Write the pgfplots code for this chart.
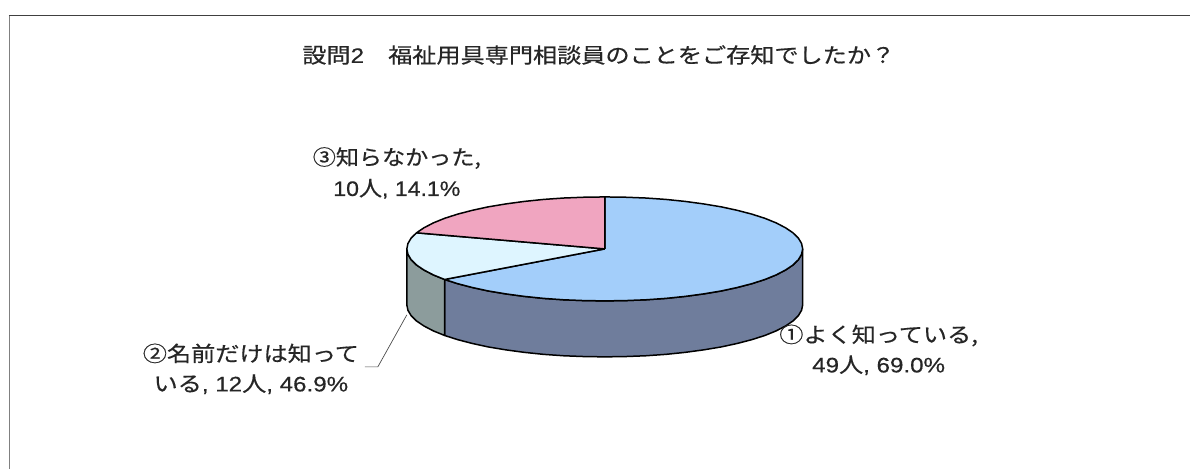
\documentclass[border=0pt]{standalone}
\usepackage{pgfplots}
\pgfplotsset{compat=1.18}
\usepackage{fontspec}
\setmainfont[RawFeature={embolden=0.5}]{Liberation Sans}
\newfontfamily\cjk[RawFeature={embolden=0.5}]{Noto Sans CJK JP}
\definecolor{sliceA}{RGB}{163,206,250}
\definecolor{sliceB}{RGB}{222,245,255}
\definecolor{sliceC}{RGB}{240,165,192}
\definecolor{sideA}{RGB}{111,125,156}
\definecolor{sideB}{RGB}{140,156,156}
\definecolor{ink}{RGB}{38,38,38}
\newcommand{\lab}[1]{\scalebox{1.15}[1]{#1}}
\newcommand{\labn}[1]{\scalebox{1.1}[1]{#1}}

% Rim of the top face: slices run clockwise from the twelve o'clock position
\pgfplotstableread{
x y
605 249
605 197
625.7 197.3
646.2 198.1
666.2 199.5
685.5 201.5
704 204
721.4 206.9
737.5 210.4
752.1 214.2
765.2 218.4
776.5 223
785.9 227.9
793.3 232.9
798.7 238.2
801.9 243.6
803 249
801.9 254.4
798.7 259.8
793.3 265.1
785.9 270.1
776.5 275
765.2 279.6
752.1 283.8
737.5 287.6
721.4 291.1
704 294
685.5 296.5
666.2 298.5
646.2 299.9
625.7 300.7
605 301
584.3 300.7
563.8 299.9
543.8 298.5
524.5 296.5
506 294
488.6 291.1
472.5 287.6
457.9 283.8
444.8 279.6
605 249
}\topA
\pgfplotstableread{
x y
605 249
444.8 279.6
433.5 275
424.1 270.1
416.7 265.1
411.3 259.8
408.1 254.4
407 249
408.1 243.6
411.3 238.2
416.7 232.9
605 249
}\topB
\pgfplotstableread{
x y
605 249
416.7 232.9
424.1 227.9
433.5 223
444.8 218.4
457.9 214.2
472.5 210.4
488.6 206.9
506 204
524.5 201.5
543.8 199.5
563.8 198.1
584.3 197.3
605 197
605 249
}\topC
% Outer wall of the first slice
\pgfplotstableread{
x y
803 249
801.9 254.4
798.7 259.8
793.3 265.1
785.9 270.1
776.5 275
765.2 279.6
752.1 283.8
737.5 287.6
721.4 291.1
704 294
685.5 296.5
666.2 298.5
646.2 299.9
625.7 300.7
605 301
584.3 300.7
563.8 299.9
543.8 298.5
524.5 296.5
506 294
488.6 291.1
472.5 287.6
457.9 283.8
444.8 279.6
444.8 335.6
457.9 339.8
472.5 343.6
488.6 347.1
506 350
524.5 352.5
543.8 354.5
563.8 355.9
584.3 356.7
605 357
625.7 356.7
646.2 355.9
666.2 354.5
685.5 352.5
704 350
721.4 347.1
737.5 343.6
752.1 339.8
765.2 335.6
776.5 331
785.9 326.1
793.3 321.1
798.7 315.8
801.9 310.4
803 305
803 249
}\wallA
% Outer wall of the second slice
\pgfplotstableread{
x y
444.8 279.6
433.5 275
424.1 270.1
416.7 265.1
411.3 259.8
408.1 254.4
407 249
407 305
408.1 310.4
411.3 315.8
416.7 321.1
424.1 326.1
433.5 331
444.8 335.6
444.8 279.6
}\wallB

\begin{document}
\begin{tikzpicture}
\begin{axis}[
  scale only axis, width=1190pt, height=469pt,
  xmin=0, xmax=1190, ymin=0, ymax=469, y dir=reverse,
  hide axis, clip=false,
]
  \path (axis cs:0,0) rectangle (axis cs:1190,469);
  % frame of the chart area
  \addplot[draw=black!50, line width=1.2pt] coordinates {(9.5,469) (9.5,16)};
  \addplot[draw=black!75, line width=1pt] coordinates {(9,16) (1190,16)};

  \addplot[fill=sideA, draw=black, line width=1.5pt, line join=round] table {\wallA};
  \addplot[fill=sideB, draw=black, line width=1.5pt, line join=round] table {\wallB};
  \addplot[fill=sliceA, draw=black, line width=1.5pt, line join=round] table {\topA};
  \addplot[fill=sliceB, draw=black, line width=1.5pt, line join=round] table {\topB};
  \addplot[fill=sliceC, draw=black, line width=1.5pt, line join=round] table {\topC};

  % leader line of the second slice
  \addplot[draw=black!70, line width=0.7pt] coordinates {(407,315) (378,367) (365,367)};

  \node[text=ink, font=\fontsize{21}{21}\selectfont, anchor=center] at (axis cs:599,55)
    {\lab{{\cjk 設問}2\hspace{1em}{\cjk 福祉用具専門相談員のことをご存知でしたか？}}};
  \node[text=ink, font=\fontsize{21}{31}\selectfont, align=center] at (axis cs:397,173)
    {\labn{{\cjk ③知らなかった,}}\\\labn{10{\cjk 人}, 14.1\%}};
  \node[text=ink, font=\fontsize{21}{30}\selectfont, align=center] at (axis cs:251,369)
    {\lab{{\cjk ②名前だけは知って}}\\\lab{{\cjk いる}, 12{\cjk 人}, 46.9\%}};
  \node[text=ink, font=\fontsize{21}{30}\selectfont, align=center] at (axis cs:879,350)
    {\lab{{\cjk ①よく知っている,}}\\\lab{49{\cjk 人}, 69.0\%}};
\end{axis}
\end{tikzpicture}
\end{document}
